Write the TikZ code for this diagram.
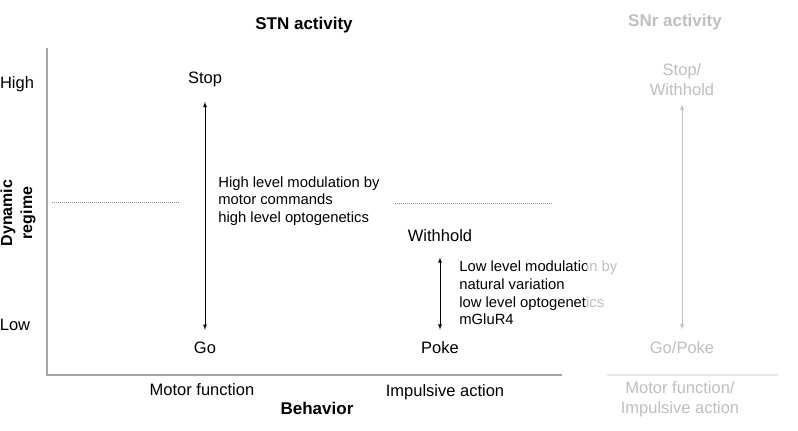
\documentclass[tikz,border=0pt]{standalone}
\usepackage{fontspec}
\setmainfont{Liberation Sans}
\usetikzlibrary{positioning}
\usetikzlibrary{calc}
\tikzset{every picture/.style={line width=0.8pt},
  txt/.style={font=\fontsize{16.5}{20}\selectfont, inner sep=1pt},
  note/.style={font=\fontsize{14.8}{17.6}\selectfont, inner sep=1pt, anchor=west, align=left},
  hdr/.style={font=\fontsize{17}{20}\selectfont\bfseries, inner sep=1pt},
  axisline/.style={draw=black!35, line width=1.6pt},
  level/.style={draw=black!45, line width=0.5pt, dash pattern=on 1pt off 1pt}}

\begin{document}
\begin{tikzpicture}[x=1pt, y=-1pt]
\useasboundingbox (0,0) rectangle (798,431);
% axes
\draw[axisline] (47,48) -- (47,375) -- (562,375);
\draw[axisline] (607,375) -- (778,375);
\node (stn) at (304,25) [hdr] {STN activity};
\node (snr) at (675,22) [hdr] {SNr activity};
\node (high) at (17,84) [txt] {High};
\node (low) at (15,325) [txt] {Low};
\node (regime) at (18,213) [hdr, font=\fontsize{16}{20}\selectfont\bfseries, rotate=90, align=center] {Dynamic\\regime};
\node (behav) at (317,408) [hdr] {Behavior};
\node (motor) at (202,390) [txt] {Motor function};
\node (impuls) at (445,392) [txt] {Impulsive action};
% threshold
\draw[level] (52,202) -- (180,202);
\draw[level] (395,203) -- (552,203);
% motor function
\node (stop) at (205,79) [txt] {Stop};
\node (go) at (205,348) [txt] {Go};
\draw[latex-latex, shorten <=14pt, shorten >=11pt] (stop) -- (go);
\node (hightxt) [note] at (217,201) {High level modulation by\\motor commands\\high level optogenetics};
% impulsive action
\node (withhold) at (440,236) [txt] {Withhold};
\node (poke) at (440,348) [txt] {Poke};
\draw[latex-latex, shorten <=14pt, shorten >=11pt] (withhold) -- (poke);
\node (lowtxt) [note] at (458,293) {Low level modulation by\\natural variation\\low level optogenetics\\mGluR4};
% SNr
\node (stopw) at (682,80) [txt, align=center] {Stop/\\Withhold};
\node (gopoke) at (682,348) [txt] {Go/Poke};
\draw[latex-latex, shorten <=7pt, shorten >=11pt] (stopw) -- (gopoke);
\node (both) at (680,399) [txt, align=center] {Motor function/\\Impulsive action};
% fade the SNr side
\fill[white, fill opacity=0.75] (587,0) rectangle (798,431);
\end{tikzpicture}
\end{document}
